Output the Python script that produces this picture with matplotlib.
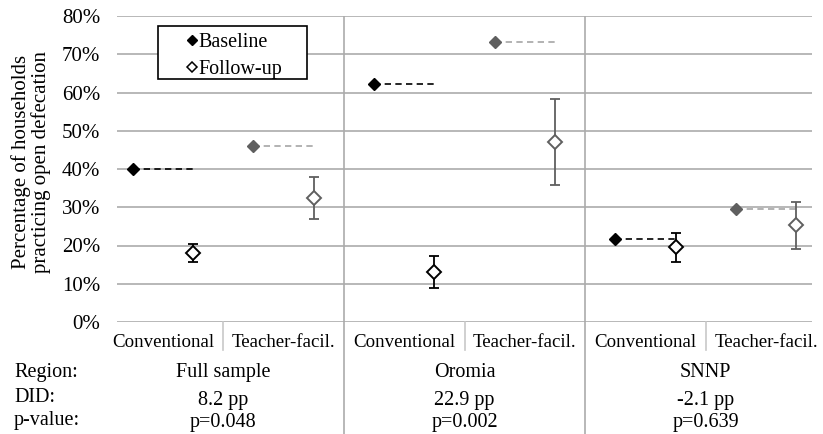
import matplotlib
matplotlib.use("Agg")
import matplotlib.pyplot as plt
from matplotlib.patches import Rectangle

plt.rcParams['font.family'] = ['Liberation Serif', 'DejaVu Serif']

# data (percent)
regions = ['Full sample', 'Oromia', 'SNNP']
did = ['8.2 pp', '22.9 pp', '-2.1 pp']
pvals = ['p=0.048', 'p=0.002', 'p=0.639']
arms = ['Conventional', 'Teacher-facil.']

baseline = [40.0, 46.1, 62.2, 73.2, 21.6, 29.5]
followup = [18.0, 32.3, 13.1, 47.0, 19.6, 25.3]
err_low = [15.8, 26.9, 8.9, 35.9, 15.8, 19.2]
err_high = [20.3, 37.8, 17.3, 58.4, 23.3, 31.5]

yticks = [0, 10, 20, 30, 40, 50, 60, 70, 80]

arm_colors = {'Conventional': 'black', 'Teacher-facil.': '#5f5f5f'}
dash_colors = {'Conventional': 'black', 'Teacher-facil.': '#a6a6a6'}
grid_col = '#ababab'

fig = plt.figure(figsize=(8.23, 4.34), dpi=100)
ax = fig.add_axes([117/823, 1 - 322/434, 695/823, 306/434])

for k in range(6):
    arm = arms[k % 2]
    c = arm_colors[arm]
    xb, xf = k - 0.25, k + 0.25
    ax.plot([xb, xf], [baseline[k], baseline[k]], ls=(0, (3.8, 2.6)), lw=1.2,
            color=dash_colors[arm], zorder=3)
    ax.plot(xb, baseline[k], marker='D', ms=6.6, color=c, mec=c, ls='none', zorder=4)
    ax.errorbar(xf, followup[k],
                yerr=[[followup[k] - err_low[k]], [err_high[k] - followup[k]]],
                fmt='none', ecolor=c, elinewidth=1.3, capsize=3.3, capthick=1.3, zorder=4)
    ax.plot(xf, followup[k], marker='D', ms=7, mfc='white', mec=c, mew=1.4,
            ls='none', zorder=5)

ax.set_xlim(-0.381, 5.381)
ax.set_ylim(0, 80)
ax.set_yticks(yticks)
ax.set_yticklabels([f'{t}%' for t in yticks], fontsize=15)
ax.set_xticks([])
ax.tick_params(axis='y', length=0, pad=12)
for s in ax.spines.values():
    s.set_visible(False)
ax.yaxis.grid(True, color=grid_col, lw=1.2)
ax.set_axisbelow(True)
fig.text(31/823, 1 - 162/434, 'Percentage of households\npracticing open defecation',
         rotation=90, ha='center', va='center', fontsize=15, linespacing=0.98)

# panel dividers inside the plot
for xd in [1.5, 3.5]:
    ax.axvline(xd, color=grid_col, lw=1.2, zorder=1)

# divider lines and labels under the plot
trans = ax.get_xaxis_transform()
for xd in [1.5, 3.5]:
    ax.plot([xd, xd], [0, -0.37], transform=trans, color=grid_col, lw=1.2,
            clip_on=False)
for xd in [0.5, 2.5, 4.5]:
    ax.plot([xd, xd], [0, -0.09], transform=trans, color='#c8c8c8', lw=1.2,
            clip_on=False)

for k in range(6):
    ax.text(k, -0.068, arms[k % 2], transform=trans, ha='center', va='center',
            fontsize=13.6)

for i, r in enumerate(regions):
    xc = 2 * i + 0.5
    ax.text(xc, -0.166, r, transform=trans, ha='center', va='center', fontsize=14.5)
    ax.text(xc, -0.255, did[i], transform=trans, ha='center', va='center', fontsize=14.5)
    ax.text(xc, -0.328, pvals[i], transform=trans, ha='center', va='center', fontsize=14.5)

for y, lab in [(372, 'Region:'), (397, 'DID:'), (420, 'p-value:')]:
    fig.text(14/823, 1 - y/434, lab, ha='left', va='center', fontsize=14.5)

# legend box
ax.add_patch(Rectangle((0.059, 0.794), 0.214, 0.173, transform=ax.transAxes,
                       fill=True, facecolor='white', edgecolor='black', lw=1.2,
                       zorder=6, clip_on=False))
ax.plot(0.108, 0.922, marker='D', ms=4.8, color='black', ls='none',
        transform=ax.transAxes, zorder=7)
ax.plot(0.108, 0.833, marker='D', ms=5.0, mfc='white', mec='black', mew=1.1,
        ls='none', transform=ax.transAxes, zorder=7)
ax.text(0.1165, 0.913, 'Baseline', transform=ax.transAxes, ha='left', va='center',
        fontsize=14.5, zorder=7)
ax.text(0.1165, 0.824, 'Follow-up', transform=ax.transAxes, ha='left', va='center',
        fontsize=14.5, zorder=7)

fig.savefig('out.png', dpi=100)
